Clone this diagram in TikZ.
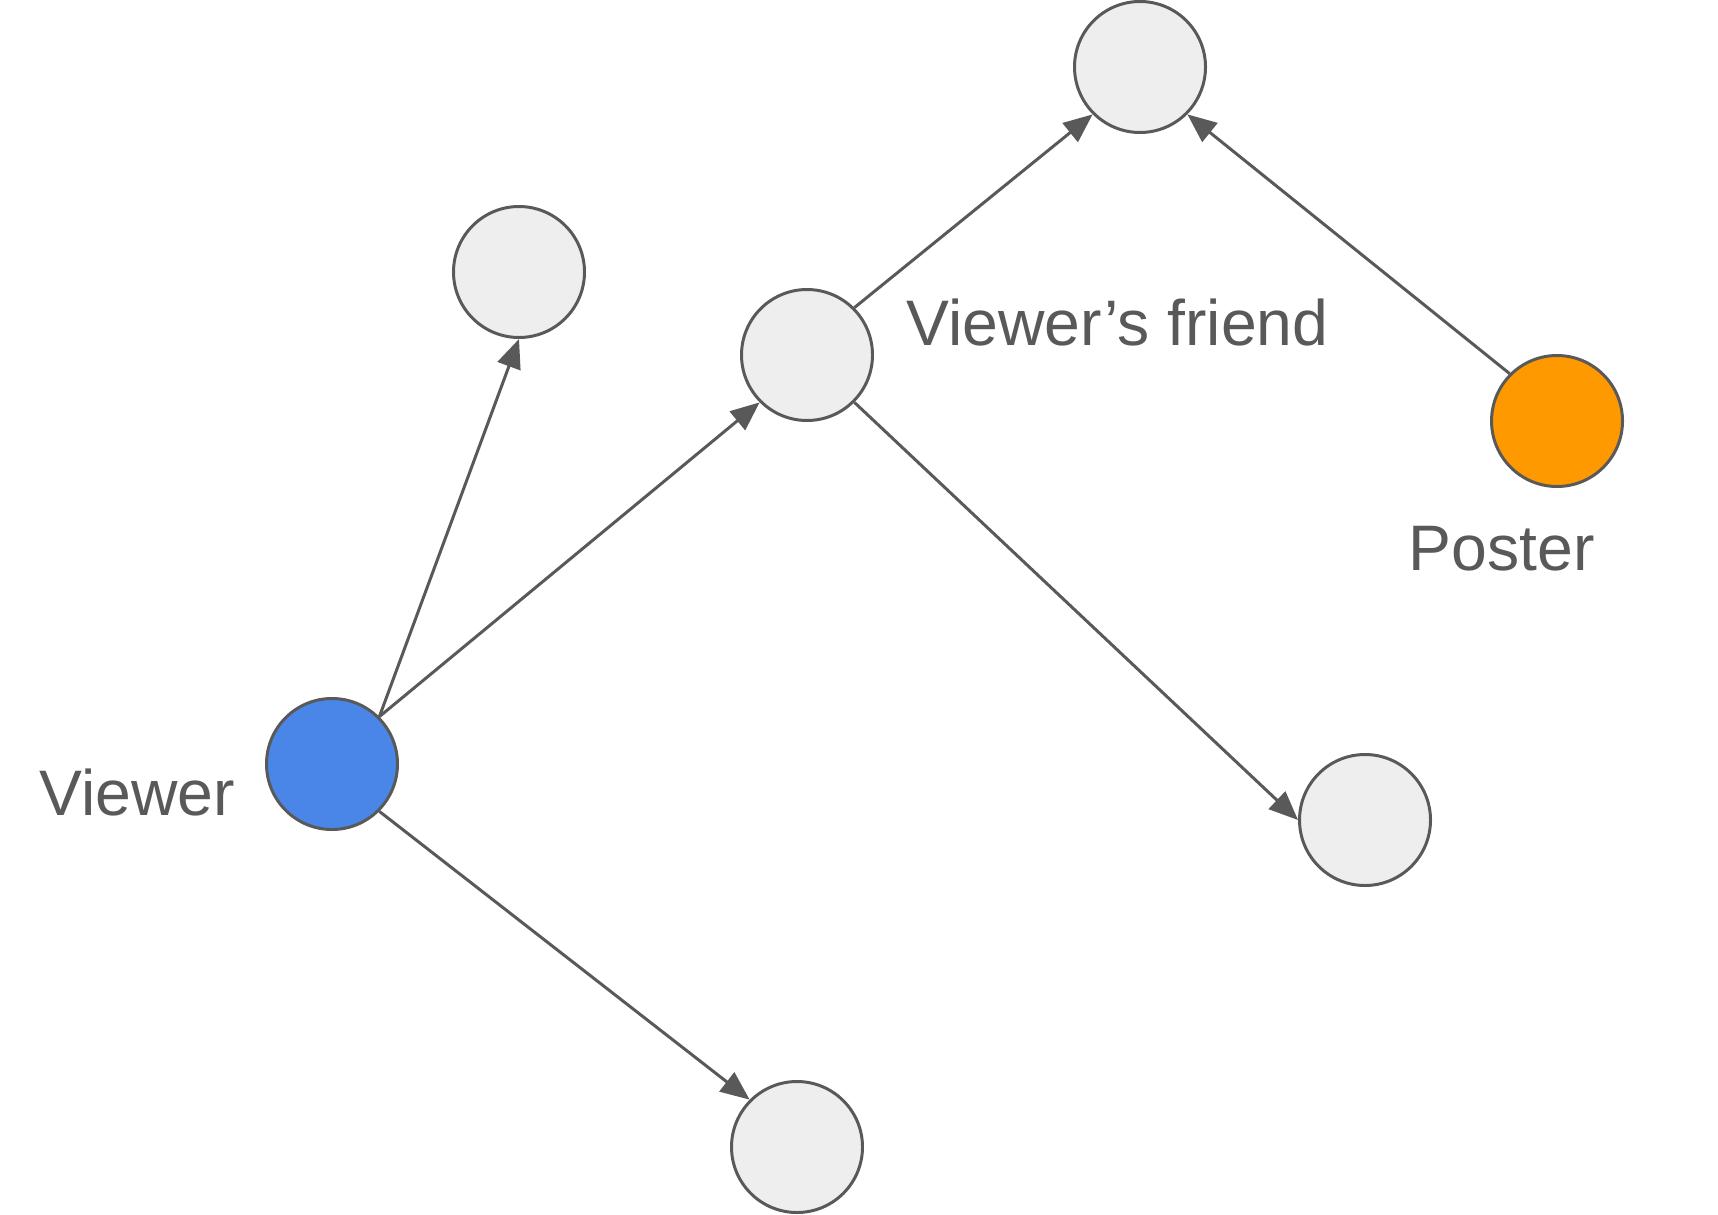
\documentclass[tikz,border=0pt]{standalone}
\usepackage{fontspec}
\setmainfont{Liberation Sans}
\usepackage{tikz}
\usetikzlibrary{arrows.meta, positioning}

\definecolor{edgegray}{HTML}{595959}
\definecolor{nodegray}{HTML}{EEEEEE}
\definecolor{viewerblue}{HTML}{4A86E8}
\definecolor{posterorange}{HTML}{FF9900}

\begin{document}
\begin{tikzpicture}[
    person/.style={draw=edgegray, circle, line width=0.85pt, fill=nodegray, minimum size=1.31cm, inner sep=0pt},
    tag/.style={text=edgegray, font=\fontsize{18.3}{22}\selectfont, inner sep=0pt},
    link/.style={-{Triangle[length=0.29cm, width=0.24cm]}, draw=edgegray, line width=0.85pt}
  ]
      \useasboundingbox (0,0) rectangle (17.18,12.14);
      % people
      \node[person, fill=viewerblue] (viewer) at (3.32,4.50) {};
      \node[person] (upper) at (5.19,9.42) {};
      \node[person] (friend) at (8.07,8.59) {};
      \node[person] (top) at (11.40,11.47) {};
      \node[person, fill=posterorange] (poster) at (15.57,7.93) {};
      \node[person] (right) at (13.65,3.94) {};
      \node[person] (bottom) at (7.97,0.67) {};
      % labels
      \node[tag, anchor=base] (viewerlbl) at (1.37,3.99) {Viewer};
      \node[tag, anchor=base west] (friendlbl) at (9.06,8.69) {Viewer’s friend};
      \node[tag, anchor=base west] (posterlbl) at (14.08,6.44) {Poster};
      % follows
      \draw[link] (viewer.45) -- (upper.south);
      \draw[link] (viewer.45) -- (friend.225);
      \draw[link] (viewer.-45) -- (bottom.135);
      \draw[link] (friend.45) -- (top.225);
      \draw[link] (friend.-45) -- (right.west);
      \draw[link] (poster.135) -- (top.-45);
    \end{tikzpicture}
\end{document}
